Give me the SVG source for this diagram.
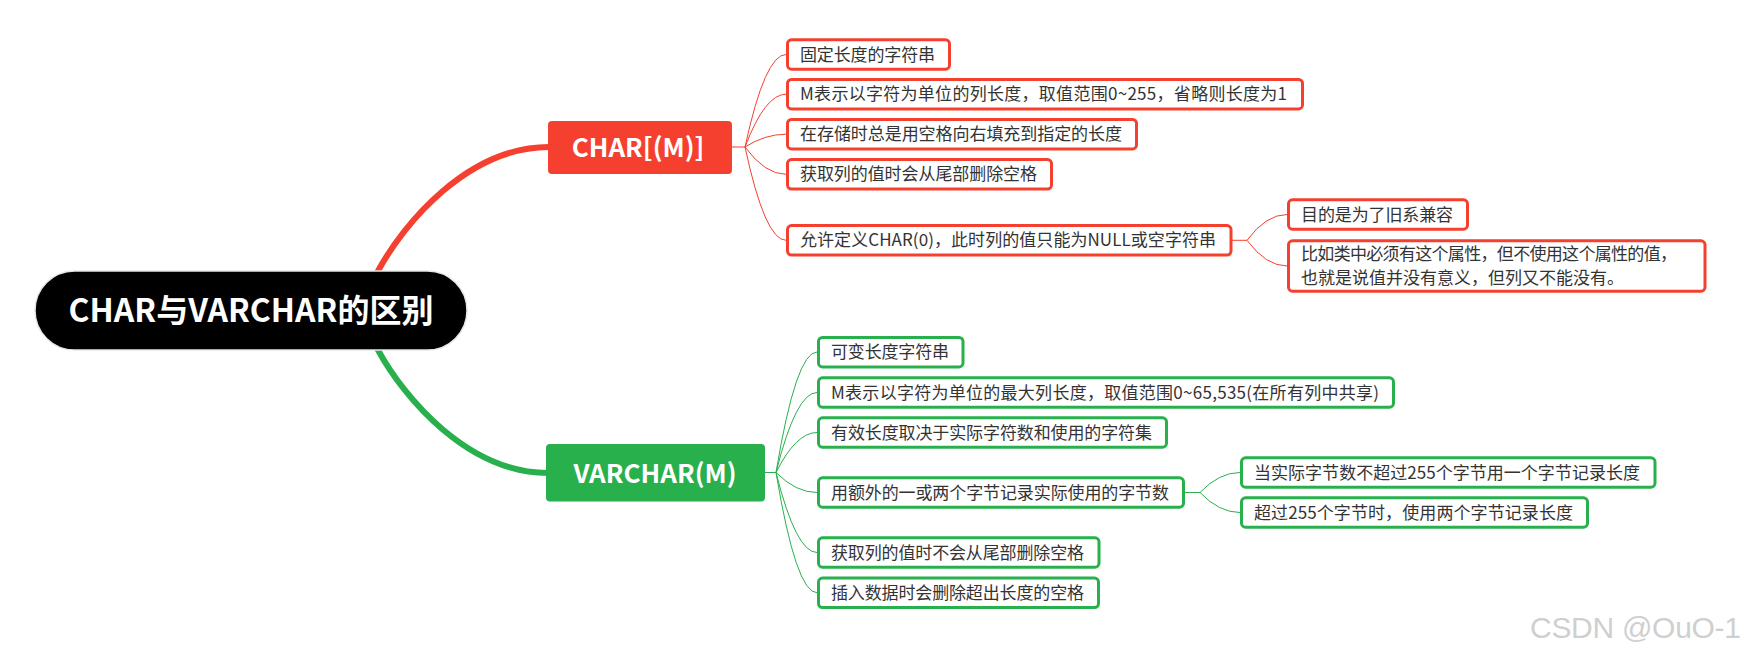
<svg xmlns="http://www.w3.org/2000/svg" width="1746" height="657" viewBox="0 0 1746 657">
<style>
.rbox{fill:#fff;stroke:#F5402F;stroke-width:3}
.gbox{fill:#fff;stroke:#28B04C;stroke-width:3}
.t{font-family:"Noto Sans CJK SC","Noto Sans",sans-serif;font-size:17px;fill:#333}
.mt{font-family:"Noto Sans CJK SC","Noto Sans",sans-serif;font-weight:bold;fill:#fff;text-anchor:middle}
.rl{fill:none;stroke:#F5402F;stroke-width:1}
.gl{fill:none;stroke:#28B04C;stroke-width:1}
</style>
<rect width="1746" height="657" fill="#fff"/>
<g id="connectors">
<path d="M367,291 L378,271 C404,223 468,147 549,147" fill="none" stroke="#F5402F" stroke-width="6"/>
<path d="M367,330 L378,350 C404,398 468,473 548,473" fill="none" stroke="#28B04C" stroke-width="6"/>
<path class="rl" d="M732,147 H745"/>
<path class="rl" d="M745,147 Q765,54.5 786,54.5"/>
<path class="rl" d="M745,147 Q765,94.2 786,94.2"/>
<path class="rl" d="M745,147 Q765,134.2 786,134.2"/>
<path class="rl" d="M745,147 Q765,174.3 786,174.3"/>
<path class="rl" d="M745,147 Q765,240.3 786,240.3"/>
<path class="rl" d="M1232,240.3 H1247"/>
<path class="rl" d="M1247,240.3 Q1266,214.5 1287,214.5"/>
<path class="rl" d="M1247,240.3 Q1266,266 1287,266"/>
<path class="gl" d="M764,472.5 H776"/>
<path class="gl" d="M776,472.5 Q796,352 817,352"/>
<path class="gl" d="M776,472.5 Q796,392.5 817,392.5"/>
<path class="gl" d="M776,472.5 Q796,432.5 817,432.5"/>
<path class="gl" d="M776,472.5 Q796,492.5 817,492.5"/>
<path class="gl" d="M776,472.5 Q796,552.5 817,552.5"/>
<path class="gl" d="M776,472.5 Q796,592.8 817,592.8"/>
<path class="gl" d="M1185,492.5 H1200"/>
<path class="gl" d="M1200,492.5 Q1219,472.5 1240,472.5"/>
<path class="gl" d="M1200,492.5 Q1219,512.5 1240,512.5"/>
</g>
<g id="root">
<rect x="35" y="271" width="432" height="79" rx="39.5" fill="#000" stroke="#e6e6e6" stroke-width="1.5"/>
<text class="mt" x="251" y="322" font-size="32" textLength="365">CHAR与VARCHAR的区别</text>
</g>
<g id="char">
<rect x="548" y="121" width="184" height="53" rx="4" fill="#F5402F"/>
<text class="mt" x="638" y="157" font-size="26">CHAR[(M)]</text>
</g>
<g id="varchar">
<rect x="546" y="444" width="219" height="57.5" rx="4" fill="#28B04C"/>
<text class="mt" x="655" y="482.5" font-size="26">VARCHAR(M)</text>
</g>
<g id="c1"><rect class="rbox" x="787.5" y="39.8" width="162" height="29.4" rx="4"/><text class="t" x="800" y="60.5" textLength="135">固定长度的字符串</text></g>
<g id="c2"><rect class="rbox" x="787.5" y="79.5" width="515" height="29.4" rx="4"/><text class="t" x="800" y="100.2" textLength="487">M表示以字符为单位的列长度，取值范围0~255，省略则长度为1</text></g>
<g id="c3"><rect class="rbox" x="787.5" y="119.5" width="349" height="29.4" rx="4"/><text class="t" x="800" y="140.2" textLength="322">在存储时总是用空格向右填充到指定的长度</text></g>
<g id="c4"><rect class="rbox" x="787.5" y="159.6" width="264" height="29.4" rx="4"/><text class="t" x="800" y="180.3" textLength="237">获取列的值时会从尾部删除空格</text></g>
<g id="c5"><rect class="rbox" x="787.5" y="225.6" width="443.5" height="29.4" rx="4"/><text class="t" x="800" y="246.3" textLength="416">允许定义CHAR(0)，此时列的值只能为NULL或空字符串</text></g>
<g id="c51"><rect class="rbox" x="1288.5" y="199.8" width="179" height="29.4" rx="4"/><text class="t" x="1301" y="220.5" textLength="152">目的是为了旧系兼容</text></g>
<g id="c52"><rect class="rbox" x="1288.5" y="240.8" width="416.5" height="50.4" rx="4"/><text class="t" x="1301" y="259.7" textLength="376">比如类中必须有这个属性，但不使用这个属性的值，</text><text class="t" x="1301" y="283.5" textLength="323">也就是说值并没有意义，但列又不能没有。</text></g>
<g id="v1"><rect class="gbox" x="818.5" y="337.5" width="144.5" height="29.4" rx="4"/><text class="t" x="831" y="358" textLength="118">可变长度字符串</text></g>
<g id="v2"><rect class="gbox" x="818.5" y="377.8" width="575" height="29.4" rx="4"/><text class="t" x="831" y="398.5" textLength="548">M表示以字符为单位的最大列长度，取值范围0~65,535(在所有列中共享)</text></g>
<g id="v3"><rect class="gbox" x="818.5" y="417.8" width="348" height="29.4" rx="4"/><text class="t" x="831" y="438.5" textLength="321">有效长度取决于实际字符数和使用的字符集</text></g>
<g id="v4"><rect class="gbox" x="818.5" y="477.8" width="365" height="29.4" rx="4"/><text class="t" x="831" y="498.5" textLength="338">用额外的一或两个字节记录实际使用的字节数</text></g>
<g id="v41"><rect class="gbox" x="1241.5" y="457.8" width="413.5" height="29.4" rx="4"/><text class="t" x="1254" y="478.5" textLength="386">当实际字节数不超过255个字节用一个字节记录长度</text></g>
<g id="v42"><rect class="gbox" x="1241.5" y="497.8" width="346" height="29.4" rx="4"/><text class="t" x="1254" y="518.5" textLength="319">超过255个字节时，使用两个字节记录长度</text></g>
<g id="v5"><rect class="gbox" x="818.5" y="537.8" width="280.5" height="29.4" rx="4"/><text class="t" x="831" y="558.5" textLength="253">获取列的值时不会从尾部删除空格</text></g>
<g id="v6"><rect class="gbox" x="818.5" y="578.1" width="280" height="29.4" rx="4"/><text class="t" x="831" y="598.8" textLength="253">插入数据时会删除超出长度的空格</text></g>
<text x="1530" y="638" font-family="Liberation Sans, Arial, sans-serif" font-size="30" fill="#cfcfcf" textLength="211">CSDN @OuO-1</text>
</svg>
